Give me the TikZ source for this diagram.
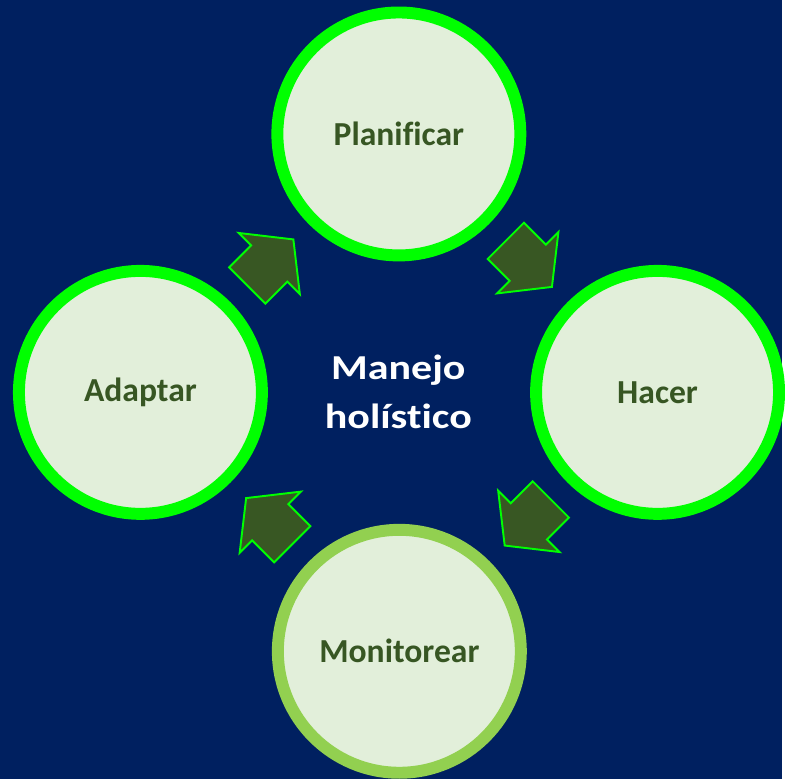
\documentclass[tikz,border=0pt]{standalone}
\usepackage{graphicx}
\usepackage{fontspec}
\setmainfont{Carlito}[Ligatures=NoCommon]
\usetikzlibrary{shapes.arrows, calc}
\definecolor{deepnavy}{RGB}{0,32,96}
\definecolor{ringgreen}{RGB}{0,255,0}
\definecolor{monitorgreen}{RGB}{146,208,80}
\definecolor{leafpale}{RGB}{226,239,218}
\definecolor{leafdark}{RGB}{55,86,35}
\definecolor{arrowolive}{RGB}{56,87,35}

\begin{document}
\begin{tikzpicture}[x=0.02cm, y=-0.02cm, phase node/.style={circle, draw=ringgreen, line width=0.24cm, fill=leafpale, text=leafdark, minimum size=4.88cm, inner sep=0pt, font=\fontsize{19.2}{23}\selectfont\bfseries}, step arrow/.style={single arrow, draw=ringgreen, line width=1.1pt, fill=arrowolive, minimum height=1.31cm, single arrow head extend=0.355cm, single arrow tip angle=103.5, inner sep=0pt, anchor=tail}]
\fill[deepnavy] (0,0) rectangle (785,782);
\foreach \n/\x/\y/\t in {plan/400.5/134.5/Planificar, hacer/660.3/394/Hacer, adaptar/141/394/Adaptar}{
    \node[phase node] (\n) at (\x,\y) {\t};}
\node[phase node, draw=monitorgreen] (monitor) at (401,654) {Monitorear};
\node[text=white, align=center, font=\fontsize{20}{28}\selectfont\bfseries] (centro) at (400,393) {\scalebox{1.2}[1]{Manejo}\\\scalebox{1.2}[1]{hol\'istico}};
\foreach \s/\t/\a in {adaptar/plan/45, plan/hacer/-45, hacer/monitor/-135, monitor/adaptar/135}{
    \node[step arrow, rotate=\a] (\s-\t) at ($(\s)!0.5!(\t)!0.655cm!(\s)$) {\rule{0pt}{0.99cm}};}
\end{tikzpicture}
\end{document}
